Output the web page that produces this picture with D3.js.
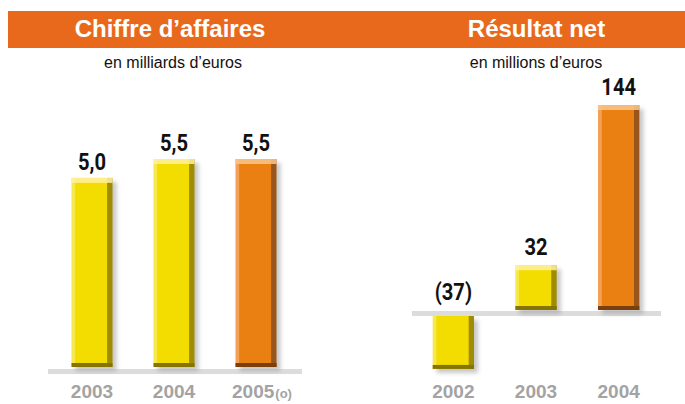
<!DOCTYPE html>
<html lang="fr">
<head>
<meta charset="UTF-8">
<title>Chiffre d'affaires / Résultat net</title>
<script src="https://d3js.org/d3.v7.min.js"></script>
<style>
  body { margin: 0; background: #fff; }
  svg { display: block; }
  .title { font-family: "Liberation Sans", Arial, sans-serif; font-weight: bold; font-size: 24px; fill: #fff; }
  .sub { font-family: "Liberation Sans", Arial, sans-serif; font-size: 16px; fill: #111; }
  .val { font-family: Roboto, "Liberation Sans", sans-serif; font-weight: bold; font-size: 24px; fill: #111; }
  .year { font-family: "Liberation Sans", Arial, sans-serif; font-weight: bold; font-size: 19px; fill: #a3a3a3; }
</style>
</head>
<body>
<svg width="685" height="404"></svg>
<script>
// Chiffre d'affaires (milliards d'euros)
const caYears = ["2003", "2004", "2005"];
const caValues = [5.0, 5.5, 5.5];
const caLabels = ["5,0", "5,5", "5,5"];
const caNotes = ["", "", "(o)"];

// Résultat net (millions d'euros)
const rnYears = ["2002", "2003", "2004"];
const rnValues = [-37, 32, 144];
const rnLabels = ["(37)", "32", "144"];

// last bar of each panel is orange, the others yellow
const palette = {
  yellow: { main: "#f3dc00", left: "#f8e94a", right: "#a08c00", top: "#fff1a0", bottom: "#857400" },
  orange: { main: "#ea8012", left: "#f2a157", right: "#9a561a", top: "#f9c58e", bottom: "#7a3f0c" }
};

const svg = d3.select("svg");
const defs = svg.append("defs");

const blur = defs.append("filter").attr("id", "shadow")
  .attr("x", "-30%").attr("y", "-30%").attr("width", "160%").attr("height", "160%");
blur.append("feGaussianBlur").attr("stdDeviation", 2.2);

Object.entries(palette).forEach(([name, c]) => {
  const g = defs.append("linearGradient").attr("id", "grad-" + name)
    .attr("x1", 0).attr("x2", 1).attr("y1", 0).attr("y2", 0);
  [[0, c.left], [0.08, c.left], [0.1, c.main], [0.86, c.main], [0.88, c.right], [1, c.right]]
    .forEach(([o, col]) => g.append("stop").attr("offset", o).attr("stop-color", col));
});

// header band
svg.append("rect").attr("x", 8).attr("y", 11).attr("width", 677).attr("height", 37).attr("fill", "#e8691c");
svg.append("text").attr("class", "title").attr("x", 170).attr("y", 37).attr("text-anchor", "middle").text("Chiffre d’affaires");
svg.append("text").attr("class", "title").attr("x", 536.5).attr("y", 37).attr("text-anchor", "middle").text("Résultat net");
svg.append("text").attr("class", "sub").attr("x", 173).attr("y", 68).attr("text-anchor", "middle").text("en milliards d’euros");
svg.append("text").attr("class", "sub").attr("x", 536).attr("y", 68).attr("text-anchor", "middle").text("en millions d’euros");

// bars hang from the zero line (top edge at y0) or stand on it
function drawBars(g, data, x, y, y0top, y0bottom) {
  const kind = d => d.year === data[data.length - 1].year ? "orange" : "yellow";
  const top = d => d.value >= 0 ? y(d.value) : y0bottom;
  const h = d => d.value >= 0 ? y0top - y(d.value) : y(d.value) - y(0);
  const bars = g.selectAll(".bar").data(data).enter().append("g").attr("class", "bar");
  bars.append("rect")
    .attr("x", d => x(d.year) + 4).attr("y", d => top(d) + 4)
    .attr("width", x.bandwidth()).attr("height", h)
    .attr("fill", "#9a9a9a").attr("opacity", 0.55).attr("filter", "url(#shadow)");
  bars.append("rect")
    .attr("x", d => x(d.year)).attr("y", top)
    .attr("width", x.bandwidth()).attr("height", h)
    .attr("fill", d => `url(#grad-${kind(d)})`);
  bars.filter(d => d.value >= 0).append("rect")
    .attr("x", d => x(d.year)).attr("y", top)
    .attr("width", x.bandwidth()).attr("height", 5)
    .attr("fill", d => palette[kind(d)].top).attr("opacity", 0.85);
  bars.append("rect")
    .attr("x", d => x(d.year)).attr("y", d => top(d) + h(d) - 4)
    .attr("width", x.bandwidth()).attr("height", 4)
    .attr("fill", d => palette[kind(d)].bottom);
}

function valueLabels(g, data, x, yPos) {
  g.selectAll(".val").data(data).enter().append("text")
    .attr("class", "val").attr("text-anchor", "middle")
    .attr("transform", d => `translate(${x(d.year) + x.bandwidth() / 2},${yPos(d)}) scale(0.84,1)`)
    .text(d => d.label);
}

// ---- left panel
const caData = caYears.map((y, i) => ({ year: y, value: caValues[i], label: caLabels[i], note: caNotes[i] }));
const xL = d3.scaleBand().domain(caYears).range([51, 297]).paddingInner(0.5).paddingOuter(0.25);
const yL = d3.scaleLinear().domain([0, 5.5]).range([367, 159]);
const left = svg.append("g");
left.append("rect").attr("x", 48).attr("y", yL(0) + 2).attr("width", 254).attr("height", 5).attr("fill", "#dcdcdc");
drawBars(left, caData, xL, yL, yL(0), yL(0));
valueLabels(left, caData, xL, d => yL(d.value) - 8);
const yearL = left.selectAll(".year").data(caData).enter().append("text")
  .attr("class", "year").attr("text-anchor", "middle")
  .attr("x", d => xL(d.year) + xL.bandwidth() / 2 + (d.note ? 6 : 0))
  .attr("y", 398);
yearL.append("tspan").text(d => d.year);
yearL.append("tspan").attr("font-size", "13px").attr("dx", 1).text(d => d.note);

// ---- right panel
const rnData = rnYears.map((y, i) => ({ year: y, value: rnValues[i], label: rnLabels[i] }));
const xR = d3.scaleBand().domain(rnYears).range([412, 660]).paddingInner(0.5).paddingOuter(0.25);
const yR = d3.scaleLinear().domain([0, 144]).range([311, 105]);
const right = svg.append("g");
right.append("rect").attr("x", 412).attr("y", yR(0)).attr("width", 249).attr("height", 5).attr("fill", "#dcdcdc");
drawBars(right, rnData, xR, yR, yR(0) - 1, yR(0) + 5);
valueLabels(right, rnData, xR, d => d.value < 0 ? yR(0) - 11 : yR(d.value) - 10);
right.selectAll(".year").data(rnData).enter().append("text")
  .attr("class", "year").attr("text-anchor", "middle")
  .attr("x", d => xR(d.year) + xR.bandwidth() / 2)
  .attr("y", 398)
  .text(d => d.year);
</script>
</body>
</html>
